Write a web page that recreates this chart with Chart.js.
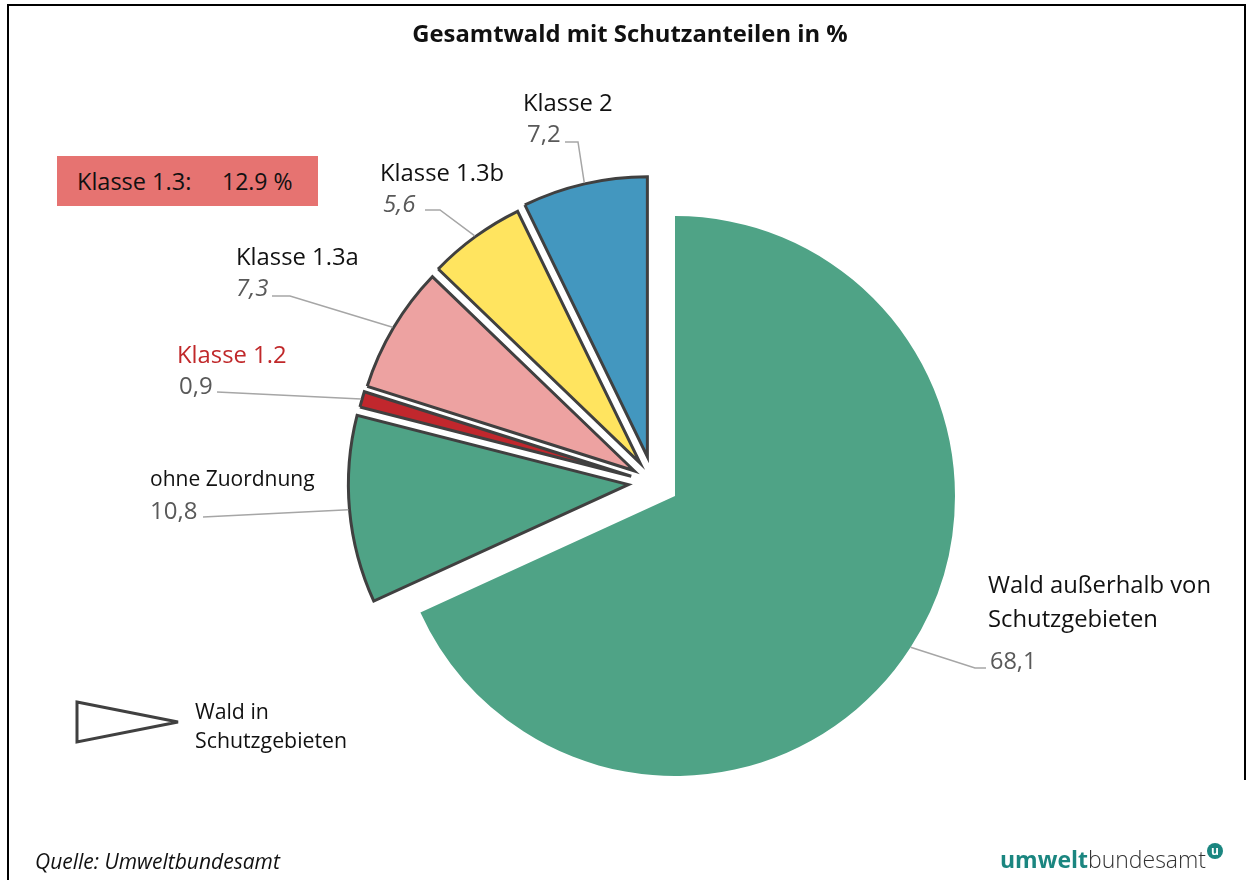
<!DOCTYPE html>
<html><head><meta charset="utf-8">
<script src="https://cdn.jsdelivr.net/npm/chart.js@4"></script>
<style>
html,body{margin:0;padding:0;background:#fff;}
#wrap{position:relative;width:1252px;height:880px;overflow:hidden;font-family:"Open Sans",sans-serif;color:#111;}
canvas{position:absolute;left:0;top:0;}
.t{position:absolute;white-space:nowrap;line-height:1.36;transform:translateY(-50%);}
.frame{position:absolute;background:#000;}
</style></head><body>
<div id="wrap">
<canvas id="c" width="1252" height="880"></canvas>
<div class="frame" style="left:7px;top:4px;width:1239px;height:2px"></div>
<div class="frame" style="left:7px;top:4px;width:2px;height:876px"></div>
<div class="frame" style="left:1244px;top:4px;width:2px;height:776px"></div>
<div class="t" id="title" style="left:0;width:1260px;text-align:center;top:33px;font-weight:700;font-size:23.8px;">Gesamtwald mit Schutzanteilen in %</div>
<div style="position:absolute;left:57px;top:156px;width:261px;height:50px;background:#e67371;"></div>
<div class="t" style="left:77px;top:182px;font-size:23.5px;">Klasse 1.3:</div>
<div class="t" style="left:222px;top:182px;font-size:23px;">12.9 %</div>
<svg style="position:absolute;left:0;top:0" width="300" height="800"><polygon points="77,702 178,722 77,742" fill="#fff" stroke="#404040" stroke-width="3"/></svg>
<div class="t" style="left:195px;top:711px;font-size:21.3px;">Wald in</div>
<div class="t" style="left:195px;top:740px;font-size:21.3px;">Schutzgebieten</div>
<div class="t" style="left:35px;top:861px;font-size:21px;font-style:italic;">Quelle: Umweltbundesamt</div>
<div class="t" style="left:1000px;top:860px;font-size:23px;color:#1b8680;"><span style="font-weight:700">umwelt</span><span style="font-weight:300;color:#333">bundesamt</span></div>
<div style="position:absolute;left:1207px;top:843px;width:16px;height:16px;border-radius:50%;background:#1b8680;color:#fff;font-size:12px;font-weight:700;line-height:15px;text-align:center;">u</div>
<div id="labels"></div>
</div>
<script>
// ---- data ----
const categories = ['Wald außerhalb von Schutzgebieten', 'ohne Zuordnung', 'Klasse 1.2', 'Klasse 1.3a', 'Klasse 1.3b', 'Klasse 2'];
const values = [68.1, 10.8, 0.9, 7.3, 5.6, 7.2];
const valueLabels = ['68,1', '10,8', '0,9', '7,3', '5,6', '7,2'];

// ---- styles / layout ----
const sliceColors = ['#4fa386', '#4fa386', '#c1272d', '#eda2a1', '#ffe45f', '#4397bf'];
const nameLines = [['Wald außerhalb von', 'Schutzgebieten'], ['ohne Zuordnung'], ['Klasse 1.2'], ['Klasse 1.3a'], ['Klasse 1.3b'], ['Klasse 2']];
const labelLayout = [
  {x: 988, y: 584, size: 23.8, vx: 990, vy: 661, vsize: 23.5, italic: false, color: '#111', elbow: [975, 668], end: [986, 668]},
  {x: 150, y: 478, size: 21, vx: 150, vy: 510, vsize: 24, italic: false, color: '#111', elbow: [203, 517], end: [203, 517]},
  {x: 177, y: 354, size: 23.8, vx: 179, vy: 385, vsize: 24, italic: false, color: '#c0282a', elbow: [217, 392], end: [217, 392]},
  {x: 236, y: 256, size: 23.8, vx: 236, vy: 287, vsize: 24, italic: true, color: '#111', elbow: [290, 296], end: [272, 296]},
  {x: 380, y: 172, size: 23.8, vx: 383, vy: 203, vsize: 24, italic: true, color: '#111', elbow: [440, 210], end: [425, 210]},
  {x: 523, y: 102, size: 23.8, vx: 527, vy: 133, vsize: 24, italic: false, color: '#111', elbow: [578, 142], end: [565, 142]}
];
const EXPLODE_FROM = 1;
const EXPLODE_DIST = 48;

// labels as HTML text
const lab = document.getElementById('labels');
labelLayout.forEach((L, i) => {
  nameLines[i].forEach((line, k) => {
    const d = document.createElement('div');
    d.className = 't';
    d.style.cssText = `left:${L.x}px;top:${L.y + k * 34}px;font-size:${L.size}px;color:${L.color};`;
    d.textContent = line;
    lab.appendChild(d);
  });
  const v = document.createElement('div');
  v.className = 't';
  v.style.cssText = `left:${L.vx}px;top:${L.vy}px;font-size:${L.vsize}px;color:#595959;${L.italic ? 'font-style:italic;' : ''}`;
  v.textContent = valueLabels[i];
  lab.appendChild(v);
});

function shiftFor(arcs, i) {
  if (i < EXPLODE_FROM) return [0, 0];
  const gs = arcs[EXPLODE_FROM].startAngle, ge = arcs[arcs.length - 1].endAngle;
  const gm = (gs + ge) / 2;
  const a = arcs[i];
  const mid = (a.startAngle + a.endAngle) / 2;
  const dir = gm + 0.5 * (mid - gm);
  return [Math.cos(dir) * EXPLODE_DIST, Math.sin(dir) * EXPLODE_DIST];
}

const explodePlugin = {
  id: 'explode',
  beforeDatasetDraw(chart, args) {
    const ctx = chart.ctx;
    const arcs = args.meta.data;
    arcs.forEach((arc, i) => {
      const [dx, dy] = shiftFor(arcs, i);
      ctx.save();
      ctx.translate(dx, dy);
      arc.draw(ctx, chart.chartArea);
      ctx.restore();
    });
    // leader lines
    ctx.save();
    ctx.strokeStyle = '#a6a6a6';
    ctx.lineWidth = 1.5;
    arcs.forEach((arc, i) => {
      const [dx, dy] = shiftFor(arcs, i);
      const mid = (arc.startAngle + arc.endAngle) / 2;
      const r = arc.outerRadius + (i >= EXPLODE_FROM ? 1 : 0);
      const sx = arc.x + dx + Math.cos(mid) * r;
      const sy = arc.y + dy + Math.sin(mid) * r;
      const L = labelLayout[i];
      ctx.beginPath();
      ctx.moveTo(sx, sy);
      ctx.lineTo(L.elbow[0], L.elbow[1]);
      ctx.lineTo(L.end[0], L.end[1]);
      ctx.stroke();
    });
    ctx.restore();
    return false;
  }
};

new Chart(document.getElementById('c').getContext('2d'), {
  type: 'pie',
  data: {
    labels: categories,
    datasets: [{
      data: values,
      backgroundColor: sliceColors,
      borderColor: '#404040',
      borderWidth: [0, 3, 3, 3, 3, 3],
      borderJoinStyle: 'miter',
      radius: 280
    }]
  },
  options: {
    responsive: false,
    animation: false,
    events: [],
    layout: {padding: {left: 98, top: 112, right: 0, bottom: 0}},
    plugins: {legend: {display: false}, tooltip: {enabled: false}, title: {display: false}}
  },
  plugins: [explodePlugin]
});
</script>
</body></html>
